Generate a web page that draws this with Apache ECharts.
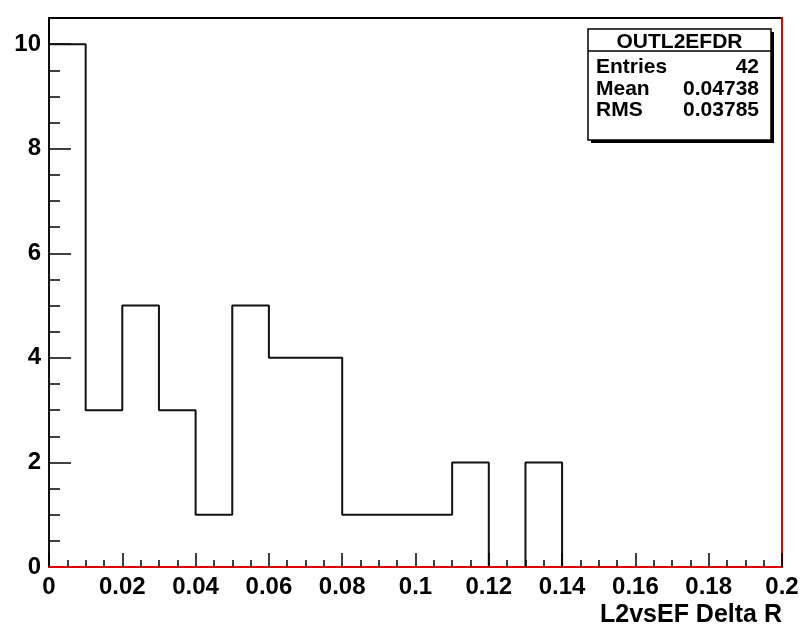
<!DOCTYPE html>
<html>
<head>
<meta charset="utf-8">
<script src="https://cdn.jsdelivr.net/npm/echarts@6/dist/echarts.min.js"></script>
<style>
  html, body { margin: 0; padding: 0; background: #fff; }
  #myChart { width: 804px; height: 628px; }
</style>
</head>
<body>
<div id="myChart"></div>
<script>
// histogram bins (low edges) and contents
var binEdges = [0, 0.01, 0.02, 0.03, 0.04, 0.05, 0.06, 0.07, 0.08, 0.09,
                0.10, 0.11, 0.12, 0.13, 0.14, 0.15, 0.16, 0.17, 0.18, 0.19, 0.2];
var counts = [10, 3, 5, 3, 1, 5, 4, 4, 1, 1, 1, 2, 0, 2, 0, 0, 0, 0, 0, 0];
var yTickValues = [0, 2, 4, 6, 8, 10];
var xTitle = 'L2vsEF Delta R';

// stats box
var histName = 'OUTL2EFDR';
var statNames = ['Entries', 'Mean', 'RMS'];
var statValues = ['42', '0.04738', '0.03785'];

var FONT = '"Liberation Sans", Arial, Helvetica, sans-serif';

// step line points: left edge up, then each bin, then close at the last edge
var stepData = [[binEdges[0], 0]];
for (var i = 0; i < counts.length; i++) {
  stepData.push([binEdges[i], counts[i]]);
}
stepData.push([binEdges[binEdges.length - 1], 0]);

// stats box graphic
var box = {left: 588, top: 29, width: 183, height: 111};
var statsGraphic = [
  {type: 'rect', shape: {x: box.left + 3, y: box.top + 3, width: box.width, height: box.height},
   style: {fill: '#000'}, z: 10},
  {type: 'rect', shape: {x: box.left, y: box.top, width: box.width, height: box.height},
   style: {fill: '#fff', stroke: '#000', lineWidth: 1.5}, z: 11},
  {type: 'line', shape: {x1: box.left, y1: 51, x2: box.left + box.width, y2: 51},
   style: {stroke: '#000', lineWidth: 1.5}, z: 12},
  {type: 'text', x: box.left + box.width / 2, y: 42, z: 12,
   style: {text: histName, font: 'bold 21px ' + FONT, fill: '#000',
           textAlign: 'center', textVerticalAlign: 'middle'}}
];
var rowY = [67, 89, 110];
for (var k = 0; k < statNames.length; k++) {
  statsGraphic.push({type: 'text', x: box.left + 8, y: rowY[k], z: 12,
    style: {text: statNames[k], font: 'bold 21px ' + FONT, fill: '#000',
            textAlign: 'left', textVerticalAlign: 'middle'}});
  statsGraphic.push({type: 'text', x: box.left + box.width - 12, y: rowY[k], z: 12,
    style: {text: statValues[k], font: 'bold 21px ' + FONT, fill: '#000',
            textAlign: 'right', textVerticalAlign: 'middle'}});
}

var myChart = echarts.init(document.getElementById('myChart'));
var option = {
  animation: false,
  backgroundColor: '#fff',
  grid: {left: 49, right: 22, top: 18, bottom: 59, containLabel: false},
  xAxis: [
    {
      type: 'value', min: 0, max: 0.2, interval: 0.02, position: 'bottom', z: 5,
      axisLine: {onZero: false, lineStyle: {color: '#e00000', width: 2}},
      axisTick: {inside: true, length: 14, lineStyle: {color: '#000', width: 1.5}},
      minorTick: {show: true, splitNumber: 4, length: 7, lineStyle: {color: '#000', width: 1.5}},
      axisLabel: {color: '#000', fontFamily: FONT, fontWeight: 'bold', fontSize: 24, margin: 8},
      splitLine: {show: false},
      name: xTitle, nameLocation: 'end', nameGap: 0,
      nameTextStyle: {color: '#000', fontFamily: FONT, fontWeight: 'bold', fontSize: 25,
                      align: 'right', verticalAlign: 'top', padding: [36, 0, 0, 0]}
    },
    {
      type: 'value', min: 0, max: 0.2, position: 'top',
      axisLine: {onZero: false, lineStyle: {color: '#000', width: 2}},
      axisTick: {show: false}, axisLabel: {show: false}, splitLine: {show: false}
    }
  ],
  yAxis: [
    {
      type: 'value', min: 0, max: 10.5, interval: 2, position: 'left',
      axisLine: {show: true, onZero: false, lineStyle: {color: '#000', width: 2}},
      axisTick: {show: true, inside: true, length: 22, customValues: yTickValues,
                 lineStyle: {color: '#000', width: 1.5}},
      minorTick: {show: true, splitNumber: 4, length: 11, lineStyle: {color: '#000', width: 1.5}},
      axisLabel: {color: '#000', fontFamily: FONT, fontWeight: 'bold', fontSize: 24, margin: 8,
                  customValues: yTickValues},
      splitLine: {show: false}
    },
    {
      type: 'value', min: 0, max: 10.5, position: 'right', z: 5,
      axisLine: {show: true, onZero: false, lineStyle: {color: '#e00000', width: 2}},
      axisTick: {show: false}, axisLabel: {show: false}, splitLine: {show: false}
    }
  ],
  series: [
    {
      type: 'line', step: 'end', symbol: 'none', z: 2,
      xAxisIndex: 0, yAxisIndex: 0,
      lineStyle: {color: '#111', width: 2},
      data: stepData
    }
  ],
  graphic: statsGraphic
};
myChart.setOption(option);
</script>
</body>
</html>
